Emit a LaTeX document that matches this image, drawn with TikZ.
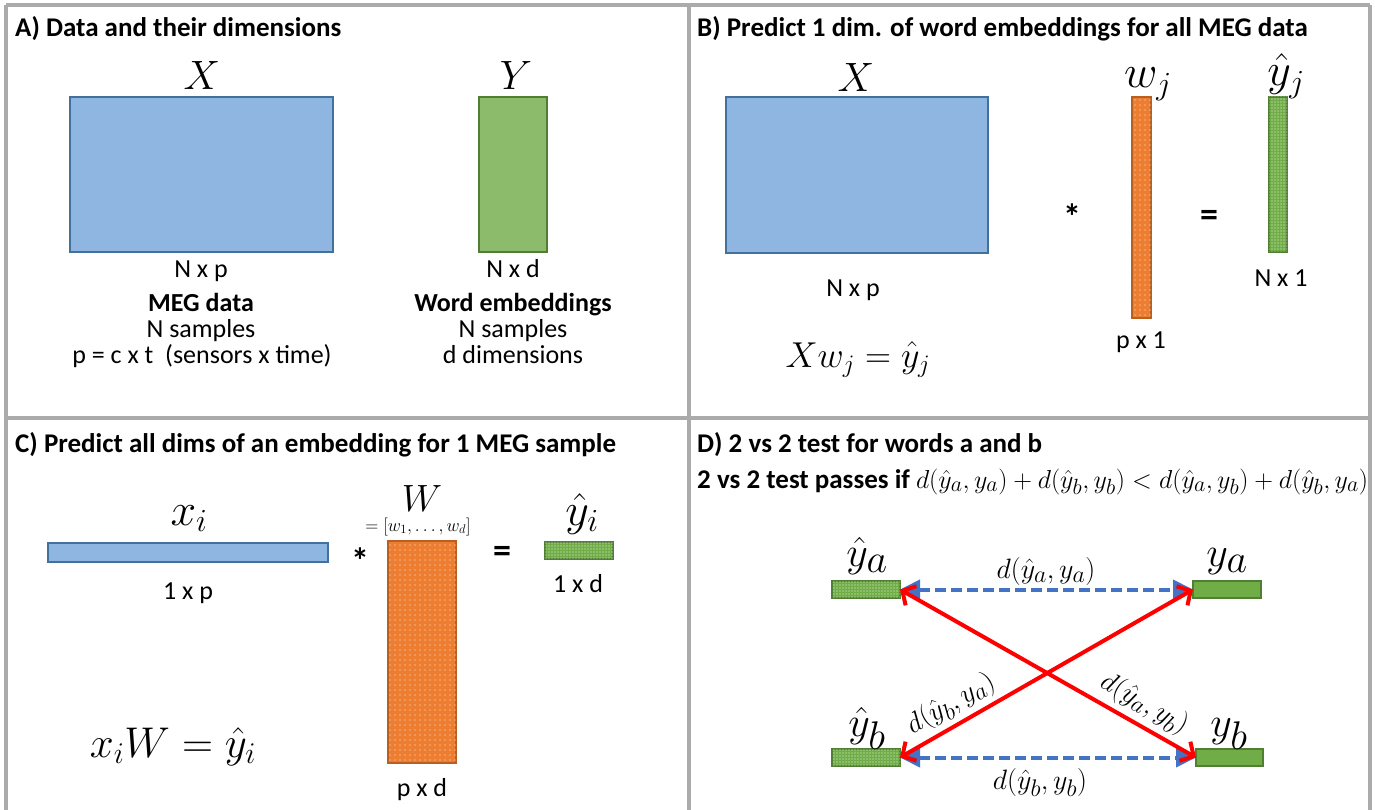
\RequirePackage{fix-cm}
\documentclass[tikz,border=0pt]{standalone}
\usepackage{fontspec}
\setsansfont{Carlito}
\usetikzlibrary{arrows.meta,patterns.meta}
\DeclareMathSizes{42}{42}{40}{32}
\DeclareMathSizes{28}{28}{24}{19}
\DeclareMathSizes{26}{26}{22}{18}
\definecolor{blueF}{HTML}{8FB6E1}
\definecolor{blueD}{HTML}{41719C}
\definecolor{greenY}{HTML}{8DBB6C}
\definecolor{greenF}{HTML}{70AD47}
\definecolor{greenD}{HTML}{507E32}
\definecolor{orangeF}{HTML}{ED7D31}
\definecolor{orangeD}{HTML}{B85F22}
\definecolor{arrowBlue}{HTML}{4472C4}
\definecolor{frameGray}{HTML}{ABABAB}
\tikzset{
  panelline/.style={draw=frameGray, line width=3.5pt},
  ttl/.style={font=\sffamily\bfseries\fontsize{27}{32}\selectfont, anchor=base west, inner sep=0pt},
  dimtxt/.style={font=\sffamily\fontsize{26}{30}\selectfont, anchor=base, inner sep=0pt},
  boldtxt/.style={font=\sffamily\bfseries\fontsize{26}{30}\selectfont, anchor=base, inner sep=0pt},
  mathlbl/.style={font=\fontsize{38}{44}\selectfont, anchor=base, inner sep=0pt},
  matlbl/.style={font=\fontsize{41}{46}\selectfont, anchor=base, inner sep=0pt},
  vecmath/.style={font=\fontsize{46}{52}\selectfont, anchor=base, inner sep=0pt},
  dmath/.style={font=\fontsize{42}{48}\selectfont, anchor=base, inner sep=0pt},
  optxt/.style={font=\sffamily\bfseries\fontsize{36}{40}\selectfont, inner sep=0pt, anchor=north},
  dlbl/.style={font=\fontsize{28}{32}\selectfont, inner sep=0pt},
  box/.style 2 args={minimum width=#1pt, minimum height=#2pt, anchor=north west, inner sep=0pt, outer sep=0pt},
  bluemat/.style={fill=blueF, draw=blueD, line width=1.2pt},
  greenmat/.style={fill=greenY, draw=greenD, line width=1.2pt},
  greensolid/.style={fill=greenF, draw=greenD, line width=1.2pt},
  orangemat/.style={fill=orangeF, draw=orangeD, line width=1.2pt,
    postaction={pattern={Dots[distance=5pt, radius=0.7pt]}, pattern color=white!85!orangeF}},
  greendot/.style={fill=greenF, draw=greenD, line width=1.2pt,
    postaction={pattern={Dots[distance=3pt, radius=0.6pt]}, pattern color=white!85!greenF}},
  bluearrow/.style={draw=arrowBlue, line width=4pt, dash pattern=on 11pt off 5pt,
    {Triangle[length=20pt,width=19pt]}-{Triangle[length=20pt,width=19pt]}},
  redarrow/.style={draw=red, line width=4pt,
    {Straight Barb[length=10pt,width=22pt]}-{Straight Barb[length=10pt,width=22pt]}}
}
\begin{document}
\begin{tikzpicture}[x=1pt,y=-1pt]
\useasboundingbox (0,0) rectangle (1375,810);
\fill[white] (0,0) rectangle (1375,810);
% frame
\draw[panelline] (6,5) -- (1370,5);
\draw[panelline] (6,5) -- (6,815);
\draw[panelline] (1370,5) -- (1370,815);
\draw[panelline] (689,5) -- (689,815);
\draw[panelline] (6,418) -- (1370,418);

% ---------- Panel A
\node[ttl] (tA) at (15,37) {A) Data and their dimensions};
\node[matlbl] (lXA) at (202,90) {$X$};
\node[bluemat, box={263}{155}] (XA) at (70,97) {};
\node[matlbl] (lYA) at (516,90) {$Y$};
\node[greenmat, box={68}{155}] (YA) at (479,97) {};
\node[dimtxt] (dXA) at (201,277) {N x p};
\node[dimtxt] (dYA) at (513,277) {N x d};
\node[boldtxt] (megA) at (201,311) {MEG data};
\node[dimtxt] (megB) at (201,337) {N samples};
\node[dimtxt] (megC) at (202,363) {p = c x t\ \ (sensors x time)};
\node[boldtxt] (weA) at (513,311) {Word embeddings};
\node[dimtxt] (weB) at (513,337) {N samples};
\node[dimtxt] (weC) at (513,363) {d dimensions};

% ---------- Panel B
\node[ttl] (tB) at (697,37) {B) Predict 1 dim. of word embeddings for all MEG data};
\node[matlbl] (lXB) at (856,92) {$X$};
\node[bluemat, box={262}{156}] (XB) at (726,97) {};
\node[optxt] (starB) at (1072,204) {*};
\node[orangemat, box={19}{221}] (wB) at (1132,97) {};
\node[vecmath] (lwB) at (1148,88) {$w_j$};
\node[optxt] (eqB) at (1209,210) {=};
\node[greendot, box={18}{155}] (yB) at (1269,97) {};
\node[vecmath] (lyB) at (1286,86) {$\hat{y}_j$};
\node[dimtxt] (dXB) at (853,296) {N x p};
\node[dimtxt] (dyB) at (1281,286) {N x 1};
\node[dimtxt] (dwB) at (1141,348) {p x 1};
\node[font=\fontsize{36}{42}\selectfont, anchor=base, inner sep=0pt] (eqnB) at (858,367) {$Xw_j=\hat{y}_j$};

% ---------- Panel C
\node[ttl] (tC) at (15,452) {C) Predict all dims of an embedding for 1 MEG sample};
\node[vecmath] (lxC) at (189,525) {$x_i$};
\node[bluemat, box={280}{19}] (xC) at (48,543) {};
\node[dimtxt] (dxC) at (188,599) {1 x p};
\node[optxt] (starC) at (360,548) {*};
\node[mathlbl] (lWC) at (422,511) {$W$};
\node[font=\fontsize{18}{20}\selectfont, inner sep=0pt, anchor=base] (WdefC) at (418,531) {$=[w_1,\ldots,w_d]$};
\node[orangemat, box={68}{222}] (WC) at (388,541) {};
\node[dimtxt] (dWC) at (422,796) {p x d};
\node[optxt] (eqC) at (502,546) {=};
\node[vecmath] (lyC) at (582,525) {$\hat{y}_i$};
\node[greendot, box={68}{17}] (yC) at (545,542) {};
\node[dimtxt] (dyC) at (578,592) {1 x d};
\node[font=\fontsize{43}{48}\selectfont, anchor=base, inner sep=0pt] (eqnC) at (173,757) {$x_iW=\hat{y}_i$};

% ---------- Panel D
\node[ttl] (tD) at (697,452) {D) 2 vs 2 test for words a and b};
\node[ttl] (tD2) at (697,488) {2 vs 2 test passes if {\fontsize{26}{30}\selectfont$d(\hat{y}_a,y_a)+d(\hat{y}_b,y_b)<d(\hat{y}_a,y_b)+d(\hat{y}_b,y_a)$}};
\node[greendot, box={68}{17}] (yah) at (832,581) {};
\node[greensolid, box={68}{17}] (ya) at (1193,581) {};
\node[greendot, box={68}{17}] (ybh) at (832,749) {};
\node[greensolid, box={67}{17}] (yb) at (1196,749) {};
\node[dmath] (lyah) at (867,566) {$\hat{y}_a$};
\node[dmath] (lya) at (1227,566) {$y_a$};
\node[dmath] (lybh) at (867,736) {$\hat{y}_b$};
\node[dmath] (lyb) at (1229,736) {$y_b$};
\draw[bluearrow] (yah.east) -- (ya.west);
\draw[bluearrow] (ybh.east) -- (yb.west);
\node[dlbl, anchor=base] (daa) at (1046,578) {$d(\hat{y}_a,y_a)$};
\node[dlbl, anchor=base] (dbb) at (1040,789) {$d(\hat{y}_b,y_b)$};
\draw[redarrow] (yah.east) -- (yb.west)
  node[dlbl, pos=0.79, sloped, above=5pt] (dab) {$d(\hat{y}_a,y_b)$};
\draw[redarrow] (ybh.east) -- (ya.west)
  node[dlbl, pos=0.21, sloped, above=5pt] (dba) {$d(\hat{y}_b,y_a)$};
\end{tikzpicture}
\end{document}
